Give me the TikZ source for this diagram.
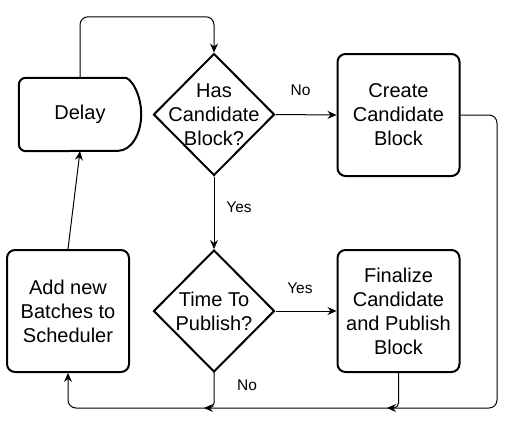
\documentclass[tikz,border=0pt]{standalone}
\usepackage{fontspec}
\setmainfont{Liberation Sans}
\usetikzlibrary{positioning, shapes.geometric, arrows.meta, calc}

\tikzset{
  process/.style={draw, line width=2pt, rounded corners=8pt, minimum width=122pt, minimum height=122pt, align=center, inner sep=0pt},
  decision/.style={draw, line width=2pt, diamond, minimum width=121pt, minimum height=122pt, inner sep=0pt},
  flow/.style={line width=1pt, -{Stealth[length=9pt, width=8pt, inset=3pt]}, rounded corners=8pt},
  lbl/.style={font=\fontsize{15.5}{18}\selectfont, inner sep=0pt},
}

\begin{document}
\begin{tikzpicture}[x=1pt, y=-1pt, font=\fontsize{20}{24}\selectfont]
      \useasboundingbox (0,0) rectangle (512,421);

      \node[minimum width=122pt, minimum height=73pt, inner sep=0pt] (Delay) at (80,114.5) {Delay};
      \draw[line width=2pt] ($(Delay.north east)+(-23,0)$) arc[start angle=90, end angle=-90, x radius=23pt, y radius=36.5pt]
        [rounded corners=7pt] -- (Delay.south west) -- (Delay.north west) -- cycle;

      \node[decision, label={[align=center]center:Has\\Candidate\\Block?}] (HasCand) at (214,114.5) {};
      \node[process] (CreateCand) at (398.5,115) {Create\\Candidate\\Block};

      \node[decision, label={[align=center]center:Time To\\Publish?}] (TimePub) at (214,311) {};
      \node[process] (Finalize) at (398.5,311) {Finalize\\Candidate\\and Publish\\Block};

      \node[process] (AddBatch) at (68,311) {Add new\\Batches to\\Scheduler};

      \coordinate (JoinA) at (387,408);
      \coordinate (JoinB) at (204,408);

      \draw[flow] (node cs:name=Delay, anchor=north) -- ++(0,-61) -| (node cs:name=HasCand, anchor=north);
      \draw[flow] (node cs:name=HasCand, anchor=east) -- node[lbl, pos=0.41, yshift=24pt] (NoA) {No} (node cs:name=CreateCand, anchor=west);
      \draw[flow] (node cs:name=HasCand, anchor=south) -- node[lbl, pos=0.43, xshift=25pt] (YesA) {Yes} (node cs:name=TimePub, anchor=north);
      \draw[flow] (node cs:name=TimePub, anchor=east) -- node[lbl, pos=0.4, yshift=23pt] (YesB) {Yes} (node cs:name=Finalize, anchor=west);
      \draw[flow] (node cs:name=CreateCand, anchor=east) -- (497,115) -- (497,408) -| (node cs:name=AddBatch, anchor=south);
      \draw[flow, rounded corners=5pt] (node cs:name=Finalize, anchor=south) |- (JoinA);
      \draw[flow, rounded corners=5pt] (node cs:name=TimePub, anchor=south) -- node[lbl, pos=0.36, xshift=33pt] (NoB) {No} (214,408) -- (JoinB);
      \draw[flow] (node cs:name=AddBatch, anchor=north) -- (node cs:name=Delay, anchor=south);
\end{tikzpicture}
\end{document}
